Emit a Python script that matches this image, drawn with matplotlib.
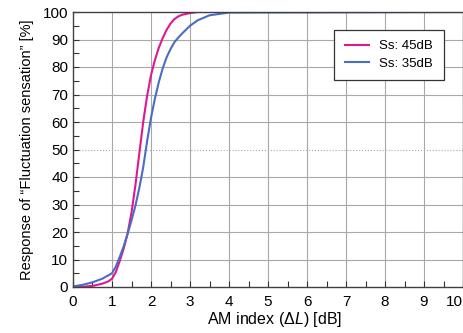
import matplotlib.pyplot as plt
from matplotlib.ticker import MultipleLocator

plt.rcParams['font.family'] = ['Liberation Sans', 'DejaVu Sans']
plt.rcParams['mathtext.fontset'] = 'custom'
plt.rcParams['mathtext.rm'] = 'Liberation Sans'
plt.rcParams['mathtext.it'] = 'Liberation Sans:italic'

# values
am_index = [0, 0.25, 0.5, 0.75, 0.9, 1.0, 1.1, 1.2, 1.3, 1.4, 1.5, 1.6, 1.7, 1.8, 1.9,
            2.0, 2.1, 2.2, 2.3, 2.4, 2.5, 2.6, 2.7, 2.8, 3.0, 3.2, 3.5, 4.0, 10]
resp_45db = [0, 0.1, 0.4, 1.2, 2.0, 3, 5.5, 9.5, 14, 19.5, 27, 37, 48.5, 60, 69.5,
             77, 82.5, 87, 90.5, 93.5, 95.8, 97.4, 98.4, 99, 99.6, 100, 100, 100, 100]
resp_35db = [0.2, 0.8, 1.7, 3, 4.2, 5, 7.5, 11, 14.8, 19.3, 24.2, 29.5, 36, 43.5, 53,
             61.5, 68.5, 74.5, 79.5, 83.5, 86.5, 89, 90.7, 92.2, 95, 97, 98.8, 99.8, 100]
series_labels = ['Ss: 45dB', 'Ss: 35dB']

fig = plt.figure(figsize=(4.64, 3.33), dpi=100)
ax = fig.add_axes([73 / 464, 1 - 287 / 333, 390 / 464, 275 / 333])

ax.plot(am_index, resp_45db, color='#e0188c', lw=1.5, solid_joinstyle='round',
        label=series_labels[0])
ax.plot(am_index, resp_35db, color='#4a6cc4', lw=1.5, solid_joinstyle='round',
        label=series_labels[1])

ax.set_xlim(0, 10)
ax.set_ylim(0, 100)
ax.set_xticks(range(0, 11))
ax.xaxis.set_minor_locator(MultipleLocator(0.5))
ax.yaxis.set_major_locator(MultipleLocator(10))
ax.yaxis.set_minor_locator(MultipleLocator(5))
ax.tick_params(which='both', direction='in', length=4, width=0.8, color='#333333',
               labelsize=11)
ax.tick_params(axis='x', pad=6)

# grid: solid everywhere except the dotted 50 % line
for xv in range(1, 10):
    ax.axvline(xv, color='#a8a8a8', lw=0.8, zorder=0)
for yv in range(10, 100, 10):
    ls = ':' if yv == 50 else '-'
    ax.axhline(yv, color='#a8a8a8', lw=0.8, ls=ls, zorder=0)

for s in ax.spines.values():
    s.set_color('#404040')
    s.set_linewidth(1.0)

# keep the last x tick label ("10") inside the figure
ax.xaxis.get_major_ticks()[-1].label1.set_horizontalalignment('right')

ax.set_xlabel(r'AM index ($\Delta L$) [dB]', fontsize=11.5, labelpad=2)
ax.xaxis.set_label_coords(0.518, -0.085)
ax.set_ylabel('Response of \u201cFluctuation sensation\u201d [%]', fontsize=10.5, labelpad=6)

leg = ax.legend(loc='upper right', bbox_to_anchor=(0.967, 0.96), fancybox=False,
                framealpha=1, edgecolor='#333333', fontsize=9.5, handlelength=1.8,
                borderpad=0.8, labelspacing=0.4)
leg.get_frame().set_linewidth(0.9)

fig.savefig('out.png', dpi=100)
